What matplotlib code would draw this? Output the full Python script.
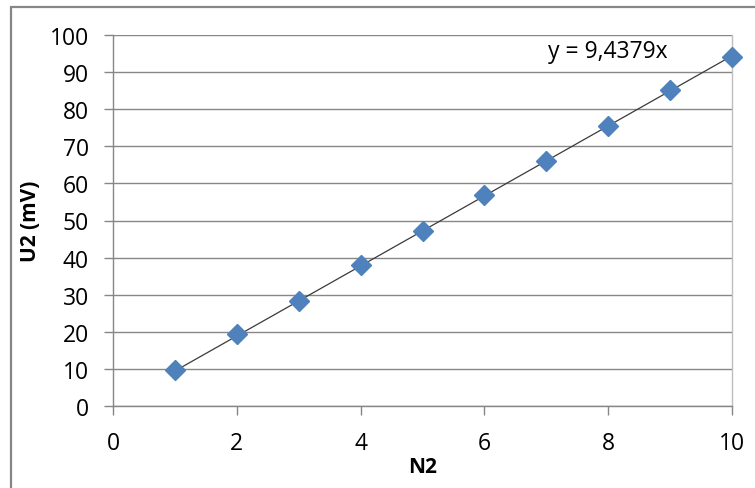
import matplotlib
matplotlib.use("Agg")
import matplotlib.pyplot as plt
import matplotlib.patches as mpatches
import numpy as np

plt.rcParams['font.family'] = ['Open Sans', 'DejaVu Sans']

n2 = [1, 2, 3, 4, 5, 6, 7, 8, 9, 10]
u2 = [9.7, 19.3, 28.4, 37.9, 47.3, 56.8, 66.0, 75.6, 85.2, 94.2]
slope = 9.4379
eq_label = "y = 9,4379x"
x_ticks = [0, 2, 4, 6, 8, 10]
y_ticks = [0, 10, 20, 30, 40, 50, 60, 70, 80, 90, 100]

W, H = 755, 489
fig = plt.figure(figsize=(W / 100, H / 100), dpi=100)
fig.patch.set_facecolor('white')

# outer chart border
border = mpatches.Rectangle((11 / W, -0.2), 1.5, (H - 8) / H + 0.2,
                            transform=fig.transFigure, fill=False,
                            edgecolor='#868686', linewidth=1.6)
fig.patches.append(border)

ax = fig.add_axes([113 / W, (H - 407) / H, (732 - 113) / W, (407 - 36) / H])
ax.set_xlim(0, 10)
ax.set_ylim(0, 100)
ax.set_xticks(x_ticks)
ax.set_yticks(y_ticks)

ax.grid(axis='y', color='#878787', linewidth=1.0)
ax.set_axisbelow(True)

for s in ['left', 'bottom']:
    ax.spines[s].set_color('#868686')
    ax.spines[s].set_linewidth(1.0)
ax.spines['right'].set_color('#bfbfbf')
ax.spines['right'].set_linewidth(1.0)
ax.spines['top'].set_visible(False)

ax.tick_params(axis='both', direction='out', length=6.5, width=1.0,
               color='#868686', labelsize=16.5, labelcolor='#000000')
ax.tick_params(axis='y', pad=11)
ax.tick_params(axis='x', pad=11.5)

xs = np.array([n2[0], n2[-1]], dtype=float)
ax.plot(xs, slope * xs, color='#3a3a3a', linewidth=0.9, zorder=3)
ax.plot(n2, u2, linestyle='none', marker='D', markersize=10,
        markerfacecolor='#4F81BD', markeredgecolor='#4F81BD', zorder=4,
        clip_on=False)

ax.text(7.03, 95.7, eq_label, fontsize=16.5, va='center', ha='left', color='#000000')

ax.set_xlabel('N2', fontsize=15, fontweight='bold', labelpad=1)
ax.set_ylabel('U2 (mV)', fontsize=15, fontweight='bold', labelpad=6)

fig.savefig('out.png', dpi=100, facecolor='white')
